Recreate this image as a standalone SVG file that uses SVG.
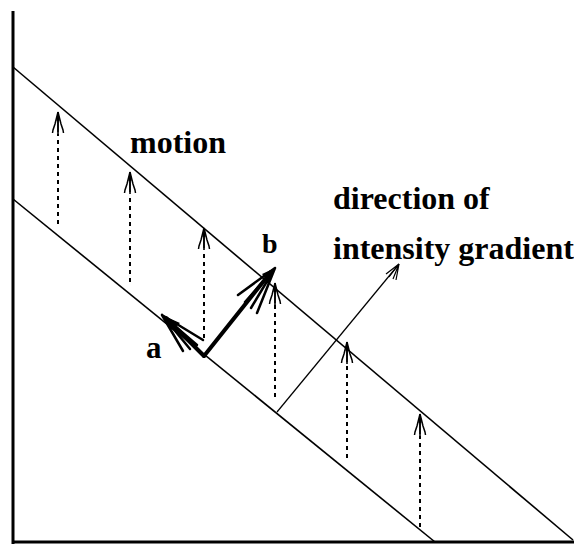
<svg xmlns="http://www.w3.org/2000/svg" width="574" height="546" viewBox="0 0 574 546">
<defs>
<style>
.ax{stroke:#000;stroke-width:3;fill:none}
.ln{stroke:#000;stroke-width:1.6;fill:none}
.mo{stroke:#000;stroke-width:2;stroke-dasharray:4 4;fill:none}
.bold{stroke:#000;stroke-width:4;fill:none;stroke-linecap:round}
.fe{stroke:#000;stroke-width:2.5;fill:none;stroke-linecap:round}
.thin{stroke:#000;stroke-width:1.2;fill:none}
text{font-family:"Liberation Serif","Times New Roman",serif;font-weight:bold;fill:#000}
</style>
<marker id="mh" markerUnits="userSpaceOnUse" markerWidth="30" markerHeight="20" refX="22" refY="10" orient="auto" viewBox="0 0 30 20" overflow="visible">
<path d="M22,10 L13,8.5 L13,11.5 Z" fill="#000"/>
<path d="M22,10 L10,7 L4,5 L1,4.5 M22,10 L10,13 L4,15 L1,15.5 M13,10 L2,10" stroke="#000" stroke-width="1.5" fill="none"/>
</marker>
</defs>
<g id="axes">
<line class="ax" x1="13" y1="11" x2="13" y2="544"/>
<line class="ax" x1="12" y1="542" x2="574" y2="542"/>
</g>
<g id="lines">
<line class="ln" x1="13" y1="67" x2="573" y2="540"/>
<line class="ln" x1="13" y1="199" x2="435" y2="542"/>
</g>
<g id="connectors">
<line class="mo" x1="58" y1="224" x2="58" y2="134"/>
<line class="mo" x1="130" y1="282" x2="130" y2="194"/>
<line class="mo" x1="204" y1="338" x2="204" y2="250"/>
<line class="mo" x1="275" y1="397" x2="275" y2="305"/>
<line class="mo" x1="347" y1="458" x2="347" y2="364"/>
<line class="mo" x1="420" y1="527" x2="420" y2="436"/>
<line class="ln" x1="58" y1="134" x2="58" y2="112" stroke="none" marker-end="url(#mh)"/>
<line class="ln" x1="130" y1="194" x2="130" y2="172" stroke="none" marker-end="url(#mh)"/>
<line class="ln" x1="204" y1="250" x2="204" y2="228" stroke="none" marker-end="url(#mh)"/>
<line class="ln" x1="275" y1="305" x2="275" y2="283" stroke="none" marker-end="url(#mh)"/>
<line class="ln" x1="347" y1="364" x2="347" y2="342" stroke="none" marker-end="url(#mh)"/>
<line class="ln" x1="420" y1="436" x2="420" y2="414" stroke="none" marker-end="url(#mh)"/>
<g id="arrow-a">
<line class="bold" x1="204" y1="356" x2="166" y2="318"/>
<path d="M162,315 L180,323 L172,330 Z" fill="#000"/>
<path class="fe" d="M162,315 L203,340 M162,315 L197,345 M162,315 L190,349 M162,315 L183,351"/>
</g>
<g id="arrow-b">
<line class="bold" x1="204" y1="356" x2="271" y2="272"/>
<path d="M275,268 L262,274 L268,281 Z" fill="#000"/>
<path class="fe" d="M275,268 L238,295 M275,268 L245,302 M275,268 L251,308 M275,268 L257,313"/>
</g>
<g id="gradient">
<line class="thin" x1="277" y1="412" x2="399" y2="264"/>
<path class="thin" d="M399,264 L386,274 M399,264 L389,277 M399,264 L393,279 M399,264 L396,280"/>
</g>
</g>
<g id="labels">
<text x="130" y="153" font-size="32">motion</text>
<text x="333" y="209" font-size="32">direction of</text>
<text x="333" y="259" font-size="32">intensity gradient</text>
<text x="146" y="358" font-size="31">a</text>
<text x="262" y="253" font-size="28">b</text>
</g>
</svg>
